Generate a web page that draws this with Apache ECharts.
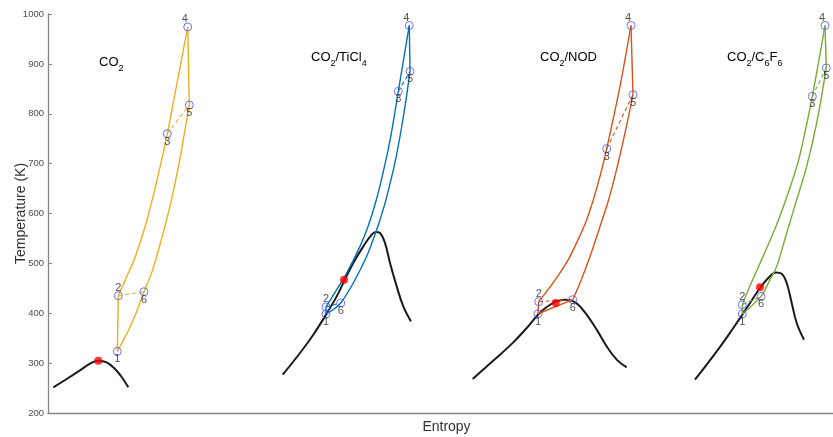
<!DOCTYPE html>
<html>
<head>
<meta charset="utf-8">
<script src="https://cdn.jsdelivr.net/npm/echarts@6/dist/echarts.min.js"></script>
<style>
  html, body { margin: 0; padding: 0; background: #fff; }
  #chart { width: 833px; height: 437px; }
</style>
</head>
<body>
<div id="chart"></div>
<script>
// T-s diagrams of four recuperated supercritical CO2-based cycles.
// Entropy is drawn in arbitrary units (one panel after another along the axis).

const yTicks = [200, 300, 400, 500, 600, 700, 800, 900, 1000];
const stateNames = ['1', '2', '3', '4', '5', '6'];

// ---- CO2 ----
const co2Dome = [[5.3,251.4],[18.7,268.2],[32,285.4],[42,298.9],[50.3,304.9],[58.7,301.5],[67,288.3],[73.7,272.2],[80.3,251.4]];
const co2Crit = [50.3, 305];
const co2States = [[69.3,323.5],[70.3,435.2],[119.3,760],[139.7,974],[141.3,817.5],[96,443.2]];
const co2High = [[70.3,435.2],[78,470],[87,512],[98,580],[110,675],[119.3,760],[130,872],[139.7,974]];
const co2Low = [[141.3,817.5],[137,768],[131,700],[122,615],[113,545],[104,483],[96,443.2],[89,405],[81,368],[74,341],[69.3,323.5]];

// ---- CO2/TiCl4 ----
const ticlDome = [[234.7,276.8],[252,320.3],[265.3,357],[278,397.1],[288.7,433.8],[296,463.9],[305.3,500.8],[315.3,534.1],[323.7,557.6],[328,563],[332,561],[337,540.9],[342,500.8],[348.7,453.9],[355.3,413.8],[363,383.7]];
const ticlCrit = [296, 467.3];
const ticlStates = [[278,398.5],[278,412.6],[350.3,844.9],[361.3,977],[362,884.9],[292.7,420.6]];
const ticlHigh = [[278,412.6],[288.7,447.2],[298.7,480.7],[312,534.1],[320,574],[328,625],[336,690],[343,757],[350.3,844.9],[361.3,977]];
const ticlLow = [[362,884.9],[356.5,808],[348,712],[338,627.7],[332,587.6],[328.7,567.6],[318.7,514.2],[305.3,460.7],[292.7,420.6],[285,407],[278,398.5]];

// ---- CO2/NOD ----
const nodDome = [[424.7,268.2],[438.7,293.4],[452,316.9],[465.3,341.6],[478.7,370.4],[490,397.1],[498.7,412.6],[508.7,423.9],[517,427.2],[523.7,425.2],[530.3,417.2],[538.7,397.1],[548.7,367.1],[558.7,333.6],[568.7,306.9],[578.7,291.5]];
const nodCrit = [507.7, 420.6];
const nodStates = [[490,399],[490.7,423.2],[558.7,730],[583,977],[585,838.2],[524.7,427.2]];
const nodHigh = [[490.7,423.2],[501,450],[511,478],[521,510],[532,556],[538.7,587.6],[545.3,627.7],[552,674.4],[558.7,730],[572,854.9],[583,977]];
const nodLow = [[585,838.2],[578.5,775],[570,700],[561,630],[552,574],[542,514],[532,460.7],[524.7,427.2]];
const nodReturn = [[524.7,427.2],[490,399]];

// ---- CO2/C6F6 ----
const c6f6Dome = [[647,266.8],[668.7,323.5],[685.3,370.4],[694.3,397.1],[702,420.6],[712,450.6],[720.3,470.7],[728,481.9],[733.7,479.3],[738.7,460.7],[743.7,420.6],[748.7,380.5],[756,347]];
const c6f6Crit = [712, 451.9];
const c6f6States = [[694.3,398.5],[694.3,417.2],[764.3,834.8],[777,977],[778.3,891.8],[713,433.8]];
const c6f6High = [[694.3,417.2],[702,455],[715.3,515],[728.7,578],[740,640],[751,710],[764.3,834.8],[777,977]];
const c6f6Low = [[778.3,891.8],[768.7,781.5],[758.7,694.4],[748.7,627.7],[738.7,560.9],[728.7,494],[722,467.3],[713,433.8],[694.3,398.5]];

const panels = [
  { dome: co2Dome, crit: co2Crit, states: co2States, high: co2High, low: co2Low, ret: null, color: '#EDB120' },
  { dome: ticlDome, crit: ticlCrit, states: ticlStates, high: ticlHigh, low: ticlLow, ret: null, color: '#0072BD' },
  { dome: nodDome, crit: nodCrit, states: nodStates, high: nodHigh, low: nodLow, ret: nodReturn, color: '#D95319' },
  { dome: c6f6Dome, crit: c6f6Crit, states: c6f6States, high: c6f6High, low: c6f6Low, ret: null, color: '#77AC30' }
];

const FONT = 'Liberation Sans, Arial, sans-serif';
const series = [];
function solid(data, color, smooth) {
  return { type: 'line', data: data, smooth: smooth ? 0.3 : false,
    symbol: 'none', silent: true, lineStyle: { color: color, width: 1.4 }, z: 3 };
}
panels.forEach(p => {
  const st = p.states;
  // saturation dome
  series.push({ type: 'line', data: p.dome, smooth: 0.4, symbol: 'none', silent: true,
    lineStyle: { color: '#1a1a1a', width: 2 }, z: 2 });
  // heat addition side: 2 -> 3 -> 4
  series.push(solid(p.high, p.color, true));
  // heat rejection side: 5 -> 6 -> 1
  series.push(solid(p.low, p.color, true));
  if (p.ret) series.push(solid(p.ret, p.color, false));
  // compression 1 -> 2 and expansion 4 -> 5
  series.push(solid([st[0], st[1]], p.color, false));
  series.push(solid([st[3], st[4]], p.color, false));
  // recuperator pairs 2-6 and 3-5
  series.push({ type: 'line', data: [st[1], st[5]], symbol: 'none', silent: true,
    lineStyle: { color: p.color, width: 1.1, type: [4, 3] }, z: 3 });
  series.push({ type: 'line', data: [st[2], st[4]], symbol: 'none', silent: true,
    lineStyle: { color: p.color, width: 1.1, type: [4, 3] }, z: 3 });
  // critical point
  series.push({ type: 'scatter', data: [p.crit], symbol: 'circle', symbolSize: 8, silent: true,
    itemStyle: { color: '#ff0000' }, z: 5 });
  // state points with their numbers
  series.push({ type: 'scatter', silent: true, symbol: 'circle', symbolSize: 8, z: 6,
    itemStyle: { color: 'rgba(0,0,0,0)', borderColor: '#4d4dff', borderWidth: 1 },
    data: st.map((v, i) => {
      const above = (i === 1 || i === 3);
      return {
        value: v,
        name: stateNames[i],
        label: {
          show: true,
          formatter: stateNames[i],
          position: above ? 'top' : 'bottom',
          distance: -2,
          offset: i === 3 ? [-3, 0] : [0, 0],
          color: '#262626',
          fontSize: 11,
          fontFamily: FONT
        }
      };
    })
  });
});

const rich = {
  m: { fontSize: 13, fontFamily: FONT, color: '#262626', verticalAlign: 'middle' },
  s: { fontSize: 9, fontFamily: FONT, color: '#262626', verticalAlign: 'bottom', lineHeight: 22 }
};
function panelTitle(x, y, text) {
  return { type: 'text', left: x, top: y, z: 10, silent: true, style: { text: text, rich: rich } };
}

const chart = echarts.init(document.getElementById('chart'), null, { renderer: 'canvas' });
chart.setOption({
  animation: false,
  backgroundColor: '#ffffff',
  grid: { left: 48, right: 0, top: 14, bottom: 24, containLabel: false, outerBoundsMode: 'none' },
  xAxis: {
    type: 'value', min: 0, max: 785,
    name: 'Entropy', nameLocation: 'middle', nameGap: 7, nameMoveOverlap: false,
    nameTextStyle: { fontSize: 14, color: '#333333', fontFamily: FONT, padding: [0, 0, 0, 12] },
    axisLine: { show: true, lineStyle: { color: '#858585', width: 1.3 } },
    axisTick: { show: false }, axisLabel: { show: false }, splitLine: { show: false }
  },
  yAxis: {
    type: 'value', min: yTicks[0], max: yTicks[yTicks.length - 1], interval: 100,
    name: 'Temperature (K)', nameLocation: 'middle', nameGap: 20, nameMoveOverlap: false,
    nameTextStyle: { fontSize: 14, color: '#333333', fontFamily: FONT },
    axisLine: { show: true, lineStyle: { color: '#858585', width: 1.3 } },
    axisTick: { show: true, inside: true, length: 4, lineStyle: { color: '#858585' } },
    axisLabel: { fontSize: 9.5, color: '#4d4d4d', margin: 4, fontFamily: FONT,
      formatter: v => String(v) },
    splitLine: { show: false }
  },
  graphic: [
    panelTitle(99, 56, '{m|CO}{s|2}'),
    panelTitle(311, 51, '{m|CO}{s|2}{m|/TiCl}{s|4}'),
    panelTitle(540, 51, '{m|CO}{s|2}{m|/NOD}'),
    panelTitle(727, 51, '{m|CO}{s|2}{m|/C}{s|6}{m|F}{s|6}')
  ],
  series: series
});
</script>
</body>
</html>
